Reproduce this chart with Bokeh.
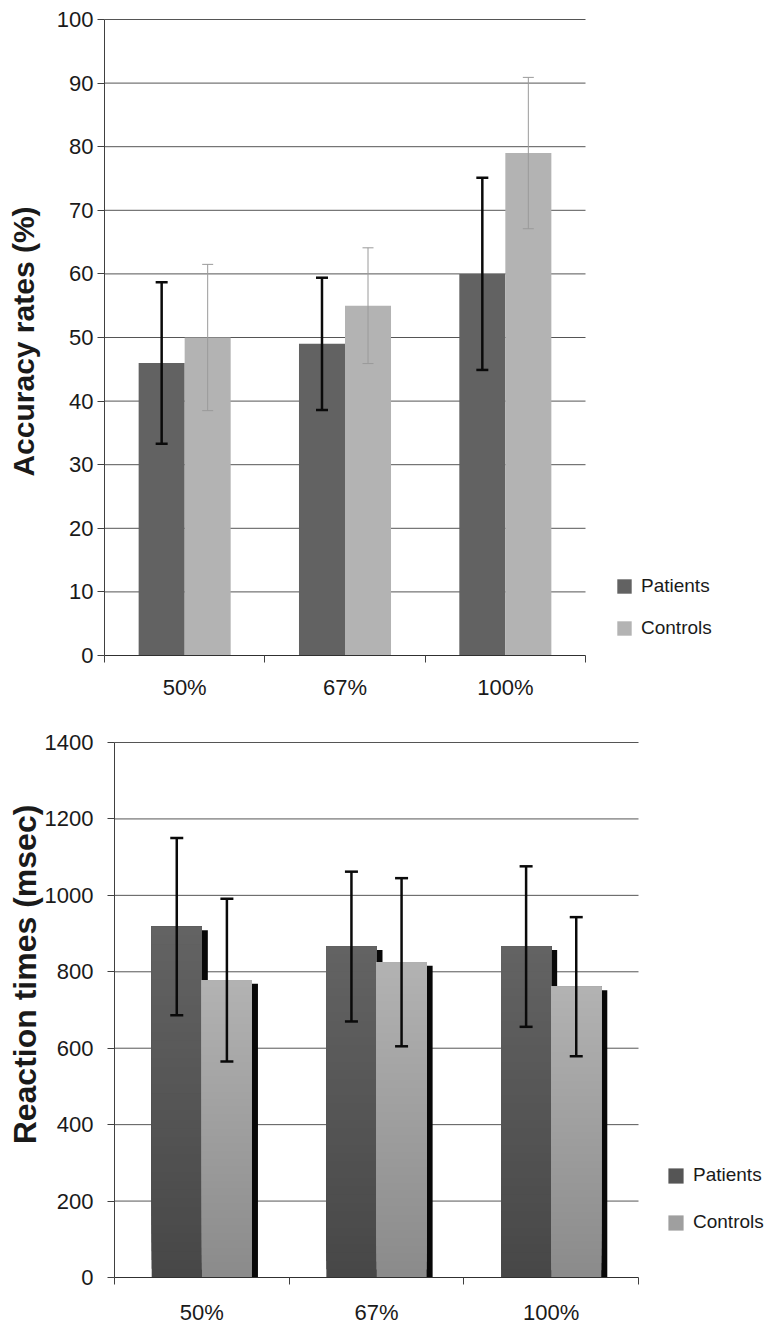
import math
from bokeh.plotting import figure
from bokeh.models import (Range1d, FixedTicker, ColumnDataSource, Whisker, TeeHead,
                          Legend, LegendItem, Label)
from bokeh.embed import file_html
from bokeh.resources import INLINE

# ---------------- data ----------------
categories = ["50%", "67%", "100%"]
series_names = ["Patients", "Controls"]

acc_patients = [46, 49, 60]
acc_patients_sd = [12.7, 10.4, 15.1]
acc_controls = [50, 55, 79]
acc_controls_sd = [11.5, 9.1, 11.9]
acc_ticks = [0, 10, 20, 30, 40, 50, 60, 70, 80, 90, 100]

rt_patients = [918, 866, 866]
rt_patients_sd = [232, 196, 210]
rt_controls = [778, 825, 761]
rt_controls_sd = [213, 220, 182]
rt_ticks = [0, 200, 400, 600, 800, 1000, 1200, 1400]

FONT = "Liberation Sans"
BAR_W = 0.287
OFF = 0.1435
N = len(categories)
W = 770


def mix(c1, c2, f):
    a = [int(c1[i:i + 2], 16) for i in (1, 3, 5)]
    b = [int(c2[i:i + 2], 16) for i in (1, 3, 5)]
    return "#%02x%02x%02x" % tuple(round(a[j] + (b[j] - a[j]) * f) for j in range(3))


def make_fig(height, ymax, yticks, left, right, top, bottom, x_standoff, y_standoff):
    # The frame covers the whole figure; both axes are pinned at 0 so that the
    # plotting area keeps the pixel extent [left, right] x [top, bottom].
    cat_px = (right - left) / N
    unit_px = (bottom - top) / ymax
    p = figure(width=W, height=height,
               x_range=Range1d(-left / cat_px, (W - left) / cat_px),
               y_range=Range1d(-(height - bottom) / unit_px, ymax + top / unit_px),
               output_backend="svg", toolbar_location=None,
               min_border_left=0, min_border_right=0,
               min_border_top=0, min_border_bottom=0)
    p.outline_line_color = None
    p.background_fill_color = "white"
    p.xgrid.visible = False
    p.ygrid.visible = False
    # horizontal grid lines limited to the category area
    p.segment(x0=0, x1=N, y0=yticks[1:], y1=yticks[1:], line_color="#555555", line_width=1)

    p.yaxis.fixed_location = 0
    p.yaxis.bounds = (0, ymax)
    p.yaxis.ticker = FixedTicker(ticks=yticks, minor_ticks=[])
    p.yaxis.axis_line_color = "#404040"
    p.yaxis.major_tick_line_color = "#404040"
    p.yaxis.major_tick_out = 7
    p.yaxis.major_tick_in = 0
    p.yaxis.minor_tick_line_color = None
    p.yaxis.major_label_standoff = y_standoff
    p.yaxis.major_label_text_font = FONT
    p.yaxis.major_label_text_font_size = "22px"
    p.yaxis.major_label_text_color = "#1a1a1a"

    p.xaxis.fixed_location = 0
    p.xaxis.bounds = (0, N)
    p.xaxis.ticker = FixedTicker(ticks=[i + 0.5 for i in range(N)],
                                 minor_ticks=list(range(N + 1)))
    p.xaxis.major_label_overrides = {i + 0.5: c for i, c in enumerate(categories)}
    p.xaxis.axis_line_color = "#303030"
    p.xaxis.major_tick_line_color = None
    p.xaxis.major_tick_out = 0
    p.xaxis.major_tick_in = 0
    p.xaxis.minor_tick_line_color = "#404040"
    p.xaxis.minor_tick_out = 7
    p.xaxis.minor_tick_in = 0
    p.xaxis.major_label_standoff = x_standoff
    p.xaxis.major_label_text_font = FONT
    p.xaxis.major_label_text_font_size = "22px"
    p.xaxis.major_label_text_color = "#1a1a1a"
    return p


def whisker(p, xs, vals, sds, color, lw, size):
    src = ColumnDataSource(dict(x=xs,
                                lower=[v - s for v, s in zip(vals, sds)],
                                upper=[v + s for v, s in zip(vals, sds)]))
    w = Whisker(source=src, base="x", lower="lower", upper="upper", dimension="height",
                level="overlay", line_color=color, line_width=lw,
                upper_head=TeeHead(size=size, line_color=color, line_width=lw),
                lower_head=TeeHead(size=size, line_color=color, line_width=lw))
    p.add_layout(w)


def make_legend(items, loc, spacing, glyph):
    return Legend(items=items, location=loc, orientation="vertical", padding=0, margin=0,
                  spacing=spacing, glyph_width=glyph, glyph_height=glyph, label_height=20,
                  label_standoff=8, label_text_font=FONT, label_text_font_size="19px",
                  label_text_color="#1a1a1a",
                  background_fill_alpha=0, border_line_alpha=0)


def side_title(text, size, x, y):
    return Label(x=x, y=y, x_units="screen", y_units="screen", text=text,
                 angle=math.pi / 2, text_align="center", text_baseline="middle",
                 text_font=FONT, text_font_size=size, text_font_style="bold",
                 text_color="#1a1a1a")


# ---------------- top chart: accuracy ----------------
H1 = 708
p1 = make_fig(H1, 100, acc_ticks, 104, 585, 19, 655, 12, 4)
xp = [i + 0.5 - OFF for i in range(N)]
xc = [i + 0.5 + OFF for i in range(N)]

r_pat = p1.vbar(x=xp, top=acc_patients, bottom=0, width=BAR_W,
                fill_color="#626262", line_color=None)
r_con = p1.vbar(x=xc, top=acc_controls, bottom=0, width=BAR_W,
                fill_color="#b3b3b3", line_color=None)
whisker(p1, xp, acc_patients, acc_patients_sd, "#0a0a0a", 2.5, 12)
whisker(p1, xc, acc_controls, acc_controls_sd, "#9a9a9a", 1, 11)

p1.add_layout(make_legend([LegendItem(label=series_names[0], renderers=[r_pat]),
                           LegendItem(label=series_names[1], renderers=[r_con])],
                          (615, H1 - 655 + 16), 20, 18))
p1.add_layout(side_title("Accuracy rates (%)", "30px", 23, H1 - 341))

# ---------------- bottom chart: reaction times ----------------
H2 = 620
p2 = make_fig(H2, 1400, rt_ticks, 114, 638, 34, 569, 15, 14)
SH_DX = 0.0343
SH_DY = 9

# shadows
p2.vbar(x=[x + SH_DX for x in xp], top=[v - SH_DY for v in rt_patients], bottom=0,
        width=BAR_W, fill_color="#080808", line_color=None)
p2.vbar(x=[x + SH_DX for x in xc], top=[v - SH_DY for v in rt_controls], bottom=0,
        width=BAR_W, fill_color="#080808", line_color=None)

NS = 40


def gradient_source(xs, vals, c_bottom, c_top, n=NS):
    d = dict(x=[], top=[], bottom=[], color=[])
    for x, v in zip(xs, vals):
        for k in range(n):
            d["x"].append(x)
            d["bottom"].append(v * k / n)
            d["top"].append(v)
            d["color"].append(mix(c_bottom, c_top, (k + 0.5) / n))
    return ColumnDataSource(d)


g_pat = p2.vbar(x="x", top="top", bottom="bottom", width=BAR_W, fill_color="color",
                line_color=None, source=gradient_source(xp, rt_patients, "#474747", "#636363"))
g_con = p2.vbar(x="x", top="top", bottom="bottom", width=BAR_W, fill_color="color",
                line_color=None, source=gradient_source(xc, rt_controls, "#8b8b8b", "#b2b2b2"))

whisker(p2, xp, rt_patients, rt_patients_sd, "#0a0a0a", 2.5, 13)
whisker(p2, xc, rt_controls, rt_controls_sd, "#0a0a0a", 2.5, 13)

p2.add_layout(make_legend([LegendItem(label=series_names[0], renderers=[g_pat], index=NS // 2),
                           LegendItem(label=series_names[1], renderers=[g_con], index=NS // 2)],
                          (666, H2 - 569 + 44), 25, 19))
p2.add_layout(side_title("Reaction times (msec)", "32px", 24, H2 - 974 + 708))

open("out.html", "w").write(file_html([p1, p2], INLINE))
